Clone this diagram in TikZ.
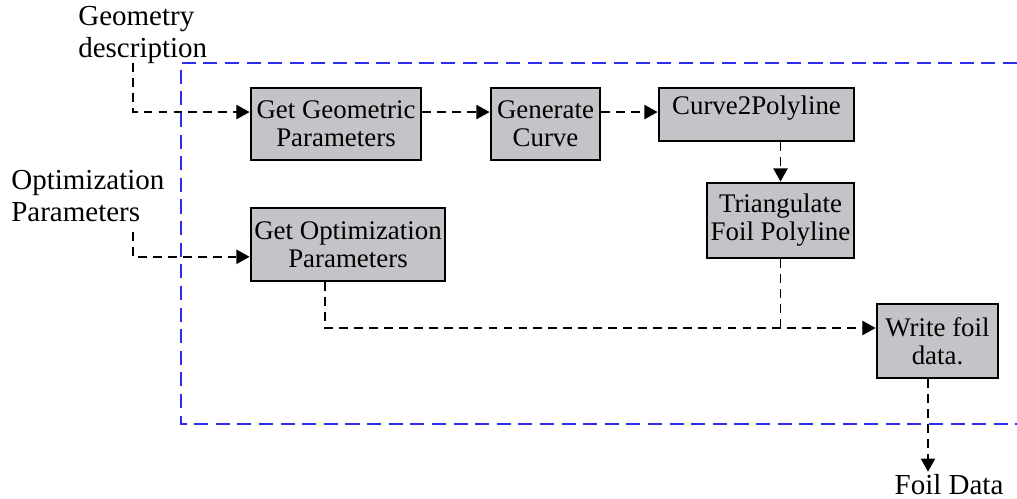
\documentclass[tikz,border=0pt]{standalone}
\usepackage{fontspec}
\setmainfont{Liberation Serif}
\usetikzlibrary{arrows.meta}
\definecolor{boxgray}{RGB}{196,195,199}
\definecolor{frameblue}{RGB}{45,45,235}

\begin{document}
\begin{tikzpicture}[x=0.02cm,y=-0.02cm,
  blk/.style={draw,line width=1.6pt,fill=boxgray,inner sep=0pt,align=center,
    font=\fontsize{15.3}{16}\selectfont},
  flow/.style={line width=1.1pt,dash pattern=on 5pt off 3.5pt,
    -{Triangle[length=7.5pt,width=8pt]}},
  plain/.style={line width=1.1pt,dash pattern=on 5pt off 3.5pt},
  lbl/.style={align=left,inner sep=0pt,font=\fontsize{16.5}{18}\selectfont}]
\useasboundingbox (0,0) rectangle (1017,499);

\draw[frameblue,line width=1.3pt,dash pattern=on 8pt off 4.3pt]
(1017,63)--(181,63)--(181,424)--(1017,424);

\node[lbl,anchor=west] (geo) at (78,35) {Geometry\\description};
\node[lbl,anchor=west] (opt) at (11,196) {Optimization\\Parameters};
\node[lbl,anchor=base,inner sep=1pt] (foil) at (949,494) {Foil Data};

\node[blk,minimum width=3.4cm,minimum height=1.44cm] (getgeo) at (336,124) {Get Geometric\\Parameters};
\node[blk,minimum width=2.18cm,minimum height=1.44cm] (gencurve) at (545.5,124) {Generate\\Curve};
\node[blk,minimum width=3.9cm,minimum height=1.06cm,text height=8pt,text depth=8pt] (ctop) at (756.5,114.5) {Curve2Polyline};
\node[blk,minimum width=2.94cm,minimum height=1.5cm] (tri) at (780.5,220.5) {Triangulate\\Foil Polyline};
\node[blk,minimum width=3.88cm,minimum height=1.46cm] (getopt) at (348,244.5) {Get Optimization\\Parameters};
\node[blk,minimum width=2.42cm,minimum height=1.48cm] (write) at (937.5,341) {Write foil\\data.};

\coordinate (g0) at (133,63);
\coordinate (o0) at (133,232);
\coordinate (j) at ([yshift=7.4pt]write.west);

\draw[flow] (g0) |- ([yshift=6.8pt]getgeo.west);
\draw[flow] ([yshift=6.8pt]getgeo.east) -- ([yshift=6.8pt]gencurve.west);
\draw[flow] ([yshift=6.8pt]gencurve.east) -- ([yshift=6.8pt]gencurve.east -| ctop.west);
\draw[flow] (ctop.south -| tri.north) -- (tri.north);
\draw[flow] (o0) |- ([yshift=-7pt]getopt.west);
\draw[plain] (tri.south) -- (tri.south |- j);
\draw[flow] ([xshift=-13pt]getopt.south) |- (j);
\draw[flow] ([xshift=-5.4pt]write.south) -- ([xshift=-5.4pt]write.south |- foil.north);
\end{tikzpicture}
\end{document}
